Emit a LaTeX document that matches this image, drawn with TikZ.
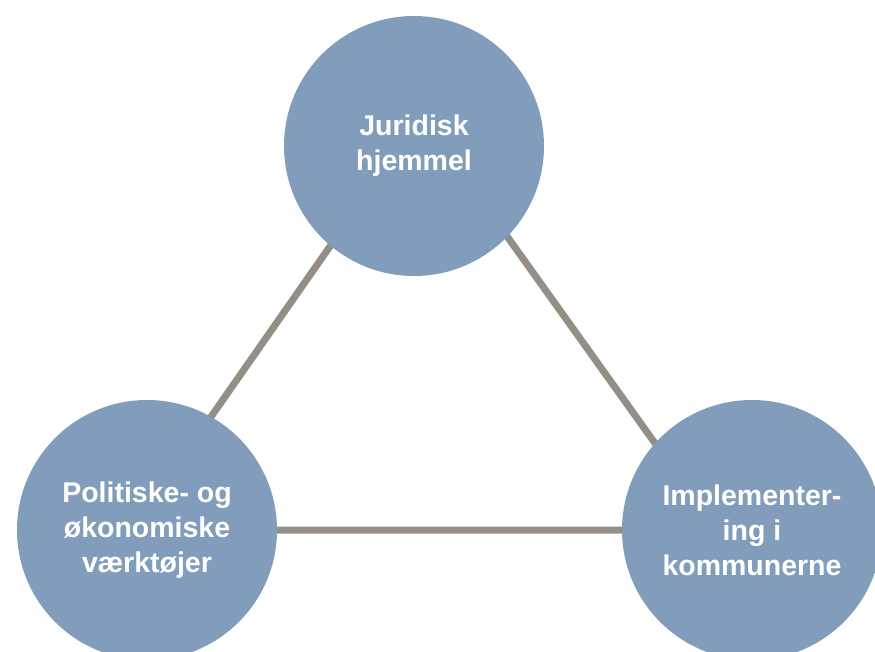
\documentclass[tikz,border=0pt]{standalone}
\usepackage{fontspec}
\setmainfont{Liberation Sans}
\usetikzlibrary{backgrounds}
\definecolor{circleblue}{RGB}{129,157,187}
\definecolor{linkgray}{RGB}{148,142,134}
\tikzset{
	topic/.style={circle, fill=circleblue, minimum size=260pt, inner sep=0pt, text=white,
		font=\fontsize{28.5}{35}\selectfont\bfseries, align=center},
	link/.style={line width=7pt, linkgray}
}
\begin{document}
\begin{tikzpicture}[x=1pt, y=-1pt]
	\useasboundingbox (0,0) rectangle (875,652);
	\node[topic] (juridisk) at (414,146) {Juridisk\\hjemmel};
	\node[topic] (politik) at (147,530) {Politiske- og\\økonomiske\\værktøjer};
	\node[topic] (kommune) at (752,530) {Implementer-\\ing i\\kommunerne};

	\coordinate (apex) at ([shift={(7,-30)}]juridisk.center);
	\coordinate (leftend) at ([xshift=-15pt]politik.center);
	\coordinate (rightend) at ([xshift=-35pt]kommune.center);

	\begin{scope}[on background layer]
		\draw[link] (apex) -- (leftend) -- (rightend) -- cycle;
	\end{scope}
\end{tikzpicture}
\end{document}
